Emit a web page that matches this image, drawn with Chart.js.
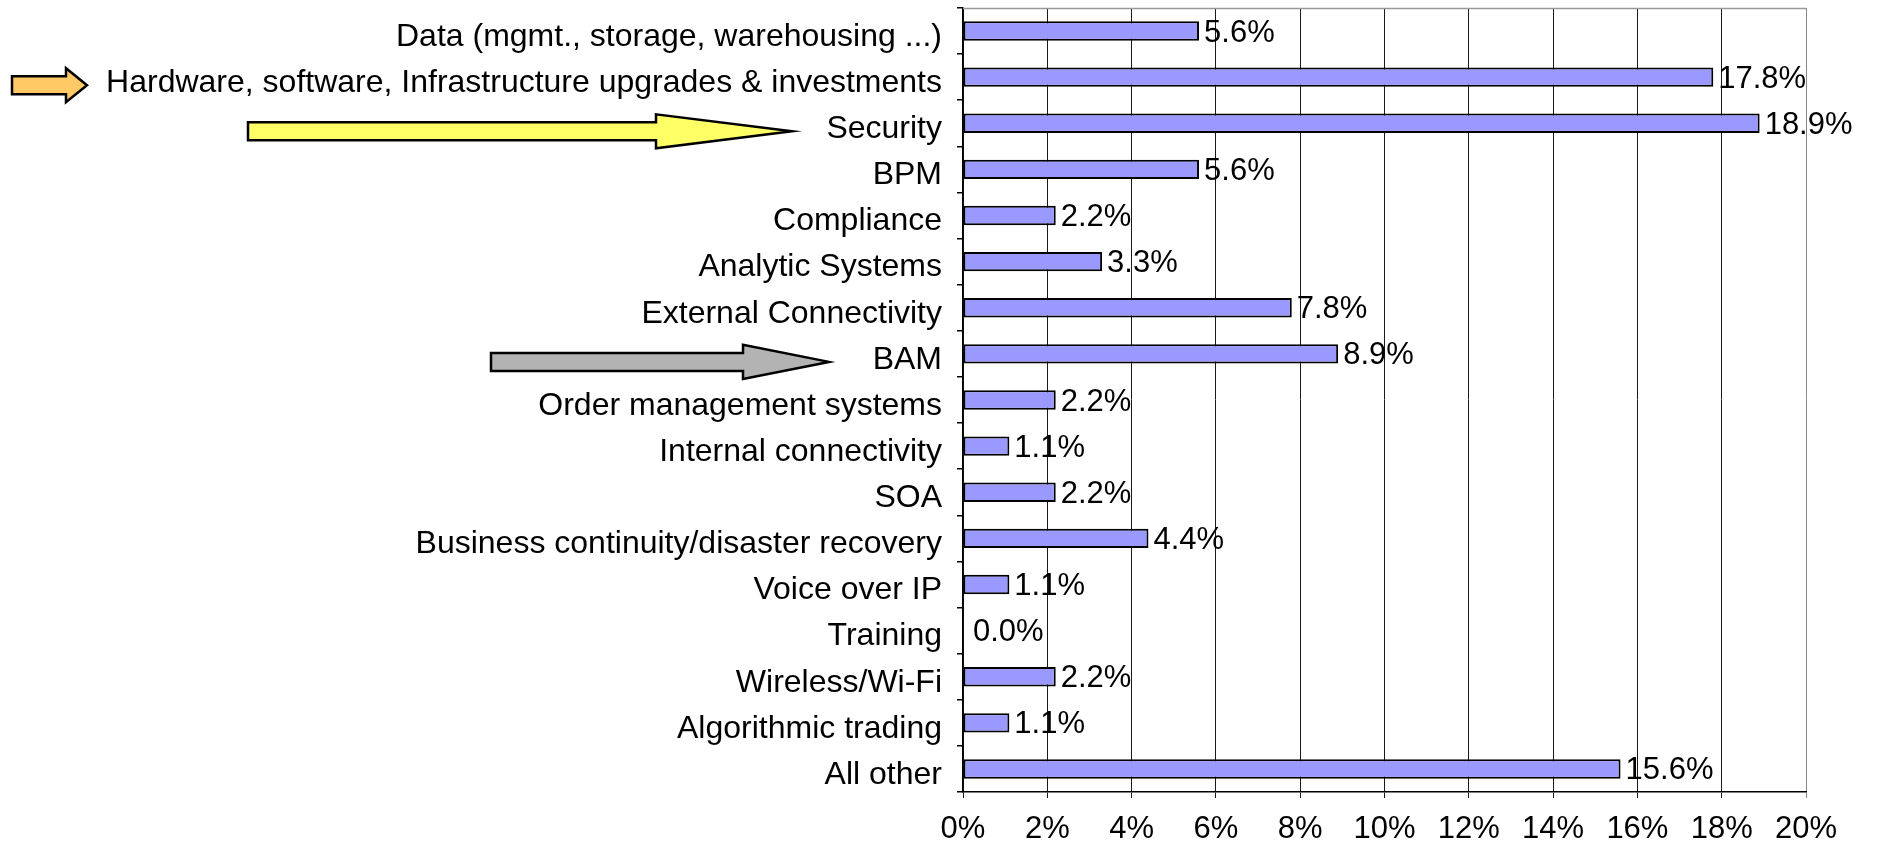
<!DOCTYPE html>
<html>
<head>
<meta charset="utf-8">
<script src="https://cdn.jsdelivr.net/npm/chart.js@4.4.1/dist/chart.umd.min.js"></script>
<style>
  html, body { margin: 0; padding: 0; background: #ffffff; }
  #wrap { width: 1877px; height: 847px; }
</style>
</head>
<body>
<div id="wrap"><canvas id="c" width="1877" height="847"></canvas></div>
<script>
const categories = [
  "Data (mgmt., storage, warehousing ...)",
  "Hardware, software, Infrastructure upgrades & investments",
  "Security",
  "BPM",
  "Compliance",
  "Analytic Systems",
  "External Connectivity",
  "BAM",
  "Order management systems",
  "Internal connectivity",
  "SOA",
  "Business continuity/disaster recovery",
  "Voice over IP",
  "Training",
  "Wireless/Wi-Fi",
  "Algorithmic trading",
  "All other"
];
const values = [5.6, 17.8, 18.9, 5.6, 2.2, 3.3, 7.8, 8.9, 2.2, 1.1, 2.2, 4.4, 1.1, 0.0, 2.2, 1.1, 15.6];
const xTicks = [0, 2, 4, 6, 8, 10, 12, 14, 16, 18, 20];

// Annotation arrows pointing at selected categories
const arrows = [
  { category: "Hardware, software, Infrastructure upgrades & investments", x0: 12, headX: 66, tipX: 87, fill: "#FFC966" },
  { category: "Security", x0: 248, headX: 656, tipX: 792, fill: "#FFFF66" },
  { category: "BAM", x0: 491, headX: 743, tipX: 829, fill: "#B3B3B3" }
];

const FONT = '"Liberation Sans", Arial, Helvetica, sans-serif';
const FSIZE = 31;
const CAT_FSIZE = 32;
const VAL_FSIZE = 31;

const valueLabels = {
  id: 'valueLabels',
  afterDatasetsDraw(chart) {
    const ctx = chart.ctx;
    const meta = chart.getDatasetMeta(0);
    ctx.save();
    ctx.font = VAL_FSIZE + 'px ' + FONT;
    ctx.fillStyle = '#000';
    ctx.textAlign = 'left';
    ctx.textBaseline = 'middle';
    meta.data.forEach((el, i) => {
      const gap = values[i] === 0 ? 10 : 5;
      ctx.fillText(values[i].toFixed(1) + '%', el.x + gap, el.y + 2);
    });
    ctx.restore();
  }
};

const frame = {
  id: 'frame',
  beforeDatasetsDraw(chart) {
    const a = chart.chartArea;
    const ctx = chart.ctx;
    ctx.save();
    ctx.strokeStyle = '#999';
    ctx.lineWidth = 1.5;
    ctx.beginPath();
    ctx.moveTo(a.left, a.top + 0.5);
    ctx.lineTo(a.right, a.top + 0.5);
    ctx.stroke();
    ctx.restore();
  }
};

const arrowPlugin = {
  id: 'arrows',
  afterDraw(chart) {
    const ctx = chart.ctx;
    const ys = chart.scales.y;
    ctx.save();
    arrows.forEach(a => {
      const idx = categories.indexOf(a.category);
      const cy = ys.getPixelForValue(idx) + 8;
      const bh = 9, hh = 17;
      ctx.beginPath();
      ctx.moveTo(a.x0, cy - bh);
      ctx.lineTo(a.headX, cy - bh);
      ctx.lineTo(a.headX, cy - hh);
      ctx.lineTo(a.tipX, cy);
      ctx.lineTo(a.headX, cy + hh);
      ctx.lineTo(a.headX, cy + bh);
      ctx.lineTo(a.x0, cy + bh);
      ctx.closePath();
      ctx.fillStyle = a.fill;
      ctx.fill();
      ctx.lineWidth = 2.5;
      ctx.lineJoin = 'miter';
      ctx.strokeStyle = '#000';
      ctx.stroke();
    });
    ctx.restore();
  }
};

new Chart(document.getElementById('c'), {
  type: 'bar',
  data: {
    labels: categories,
    datasets: [{
      data: values,
      backgroundColor: '#9999FF',
      borderColor: '#000000',
      borderWidth: 2,
      borderSkipped: false,
      categoryPercentage: 1.0,
      barPercentage: 0.42
    }]
  },
  options: {
    indexAxis: 'y',
    responsive: false,
    animation: false,
    devicePixelRatio: 1,
    layout: { padding: { left: 0, right: 71, top: 8, bottom: 0 } },
    plugins: {
      legend: { display: false },
      tooltip: { enabled: false }
    },
    scales: {
      x: {
        type: 'linear',
        min: 0,
        max: 20,
        afterBuildTicks(scale) { scale.ticks = xTicks.map(v => ({ value: v })); },
        afterFit(scale) { scale.height = 55; scale.paddingLeft = 0; scale.paddingRight = 0; },
        ticks: {
          autoSkip: false,
          maxRotation: 0,
          padding: 13,
          color: '#000',
          font: { family: FONT, size: FSIZE },
          callback: v => v + '%'
        },
        grid: {
          display: true,
          drawOnChartArea: true,
          drawTicks: true,
          tickLength: 6,
          lineWidth: 1,
          color: ctx => (ctx.tick && ctx.tick.value === 20) ? '#888888' : '#1a1a1a'
        },
        border: { display: true, color: '#000', width: 1.5 }
      },
      y: {
        type: 'category',
        offset: true,
        afterFit(scale) { scale.width = 963; scale.paddingTop = 0; scale.paddingBottom = 0; },
        ticks: {
          autoSkip: false,
          padding: 15,
          labelOffset: 6,
          color: '#000',
          font: { family: FONT, size: CAT_FSIZE }
        },
        grid: {
          offset: true,
          drawOnChartArea: false,
          drawTicks: true,
          tickLength: 6,
          color: '#000',
          lineWidth: 1.5
        },
        border: { display: true, color: '#000', width: 1.5 }
      }
    }
  },
  plugins: [frame, valueLabels, arrowPlugin]
});
</script>
</body>
</html>
